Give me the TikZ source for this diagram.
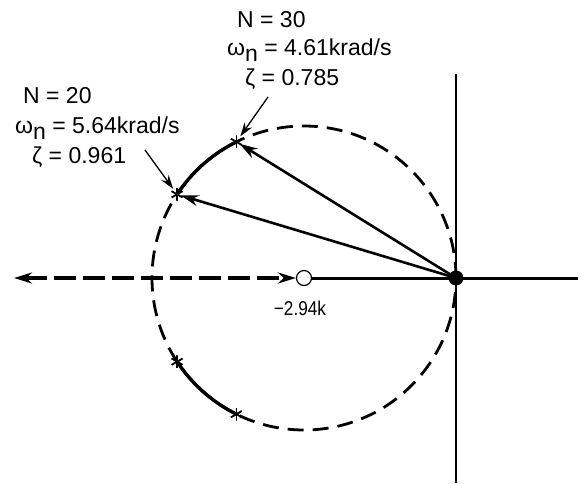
\documentclass[tikz,border=0pt]{standalone}
\usepackage{fontspec}
\setmainfont{Liberation Sans}
\newfontfamily\narrowfont[FakeStretch=0.86]{Liberation Sans}
\usetikzlibrary{arrows.meta}

\newcommand{\omegaN}{ω\raisebox{-6pt}{n}}

\begin{document}
\begin{tikzpicture}[
                x=1pt, y=1pt,
                % Text Styles
                valLabel/.style = {anchor=base west, inner sep=0pt, font=\fontsize{23}{27}\selectfont},
                zeroLabel/.style = {anchor=base, inner sep=0pt, font=\narrowfont\fontsize{20}{24}\selectfont},
                % Marker Styles
                poleDot/.style = {circle, fill=black, inner sep=0pt, minimum size=15pt},
                zeroDot/.style = {circle, draw=black, fill=white, line width=1.2pt, inner sep=0pt, minimum size=15pt},
                starMark/.style = {circle, inner sep=0pt, minimum size=13pt,
                    path picture={\foreach \a in {90,30,-30}{\draw[line width=1.8pt] (path picture bounding box.center) ++(\a:6.5pt) -- ++(\a+180:13pt);}}},
                % Line Styles
                locusCircle/.style = {line width=2.8pt, dash pattern=on 16pt off 9pt},
                locusArc/.style = {line width=3.4pt},
                axisLine/.style = {line width=1.8pt},
                realLine/.style = {line width=3pt},
                dashLine/.style = {{Stealth[length=18pt, width=11pt]}-{Stealth[length=18pt, width=11pt]}, line width=3.4pt, dash pattern=on 22pt off 7pt},
                poleArrow/.style = {-{Stealth[length=18pt, width=11pt]}, line width=2.6pt, shorten >=-3pt},
                noteArrow/.style = {-{Stealth[length=14pt, width=9pt]}, line width=1.3pt}
            ]
                \useasboundingbox (-456,-205) rectangle (125,278);

                % ==========================================
                % AXES AND ROOT LOCUS
                % ==========================================
                \coordinate (C) at (-152,0);
                \coordinate (Left) at (-442,0);
                \coordinate (Right) at (122,0);
                \coordinate (Top) at (0,204);
                \coordinate (Bottom) at (0,-205);

                \draw[locusCircle] (C) circle[radius=152];
                \draw[locusArc] ([shift={(116.4:152)}]C) arc[start angle=116.4, end angle=146.6, radius=152];
                \draw[locusArc] ([shift={(-146.6:152)}]C) arc[start angle=-146.6, end angle=-116.4, radius=152];

                \draw[axisLine] (Top) -- (Bottom);

                \node[zeroDot] (Zero) at (C) {};
                \node[poleDot] (Pole) at (0,0) {};
                \draw[realLine] (Zero) -- (Right);
                \draw[dashLine] (Left) -- (Zero);

                \node[zeroLabel] (ZeroVal) at (-156,-37) {−2.94k};

                % ==========================================
                % CLOSED-LOOP POLES
                % ==========================================
                \node[starMark] (S30) at ([shift={(116.4:152)}]C) {};
                \node[starMark] (S20) at ([shift={(146.6:152)}]C) {};
                \node[starMark] (S20b) at ([shift={(-146.6:152)}]C) {};
                \node[starMark] (S30b) at ([shift={(-116.4:152)}]C) {};

                \draw[poleArrow] (Pole.center) -- (S30);
                \draw[poleArrow] (Pole.center) -- (S20);

                % ==========================================
                % ANNOTATIONS
                % ==========================================
                \node[valLabel] (N20) at (-433,175) {N = 20};
                \node[valLabel] (W20) at (-441,145) {\omegaN{} = 5.64krad/s};
                \node[valLabel] (Z20) at (-424,115) {ζ = 0.961};

                \node[valLabel] (N30) at (-219,251) {N = 30};
                \node[valLabel] (W30) at (-229,223) {\omegaN{} = 4.61krad/s};
                \node[valLabel] (Z30) at (-211,193) {ζ = 0.785};

                \coordinate (Tail20) at (-311,128);
                \coordinate (Tail30) at (-188,181);
                \draw[noteArrow] (Tail20) -- (S20);
                \draw[noteArrow] (Tail30) -- (S30);

            \end{tikzpicture}
\end{document}
